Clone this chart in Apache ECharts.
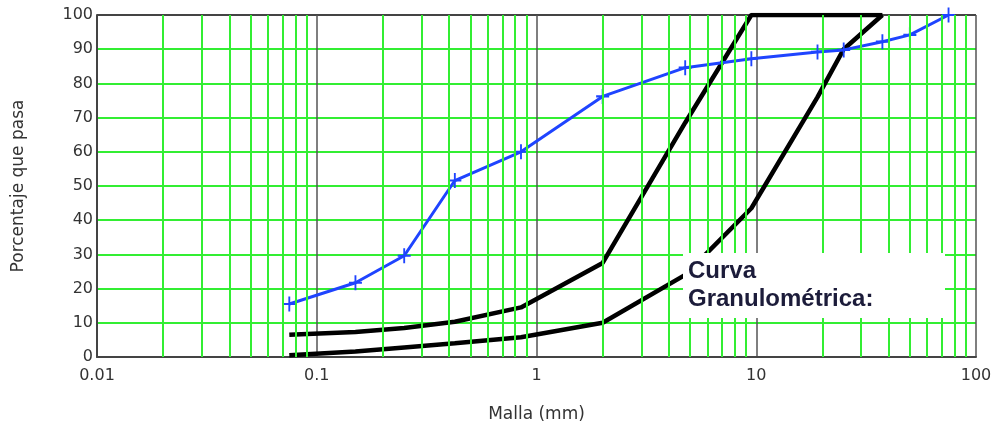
<!DOCTYPE html>
<html>
<head>
<meta charset="utf-8">
<script src="https://cdn.jsdelivr.net/npm/echarts@6/dist/echarts.min.js"></script>
<style>
html,body{margin:0;padding:0;background:#fff;}
#c{width:1000px;height:428px;}
</style>
</head>
<body>
<div id="c"></div>
<script>
// Sieve sizes (mm)
const sieves = [0.075, 0.15, 0.25, 0.425, 0.85, 2, 4.75, 9.5, 19, 25, 37.5, 50, 75];
// Sample gradation (% passing)
const sample = [15.5, 21.7, 29.6, 51.6, 60, 76.2, 84.6, 87.2, 89.2, 89.8, 92.2, 94.2, 100];
// Envelope sieves
const envSieves = [0.075, 0.15, 0.25, 0.425, 0.85, 2, 4.75, 9.5, 19, 25, 37.5];
const upperLimit = [6.5, 7.3, 8.5, 10.3, 14.5, 27.5, 68.5, 100, 100, 100, 100];
const lowerLimit = [0.5, 1.6, 2.8, 4.0, 5.8, 10, 24, 43.5, 76, 90, 100];
// Axis ticks
const xTickLabels = ['0.01', '0.1', '1', '10', '100'];
const minorGridX = [0.02,0.03,0.04,0.05,0.06,0.07,0.08,0.09,
                    0.2,0.3,0.4,0.5,0.6,0.7,0.8,0.9,
                    2,3,4,5,6,7,8,9,
                    20,30,40,50,60,70,80,90];
const boxText = 'Curva\nGranulométrica:';

const GREEN = '#33ee33';
const FONT = '"DejaVu Sans", sans-serif';

const chart = echarts.init(document.getElementById('c'));
const pair = (xs, ys) => xs.map((x, i) => [x, ys[i]]);

chart.setOption({
  animation: false,
  backgroundColor: '#fff',
  grid: {left: 97, right: 24, top: 15, bottom: 68},
  xAxis: {
    type: 'log', logBase: 10, min: 0.01, max: 100,
    name: 'Malla (mm)', nameLocation: 'middle', nameGap: 49,
    nameTextStyle: {fontFamily: FONT, fontSize: 17, color: '#333'},
    axisLine: {show: true, lineStyle: {color: '#444', width: 2}},
    axisTick: {show: false},
    axisLabel: {
      fontFamily: FONT, fontSize: 16, color: '#333', margin: 11,
      formatter: v => xTickLabels[Math.round(Math.log10(v)) + 2]
    },
    splitLine: {show: true, showMinLine: true, showMaxLine: true, lineStyle: {color: '#555', width: 1.5}}
  },
  yAxis: {
    type: 'value', min: 0, max: 100, interval: 10,
    name: 'Porcentaje que pasa', nameLocation: 'middle', nameGap: 70, nameRotate: 90,
    nameTextStyle: {fontFamily: FONT, fontSize: 17, color: '#333'},
    axisLine: {show: true, lineStyle: {color: '#444', width: 2}},
    axisTick: {show: false},
    axisLabel: {fontFamily: FONT, fontSize: 16, color: '#333', margin: 4},
    splitLine: {show: true, showMinLine: true, showMaxLine: true, lineStyle: {
      color: ['#444', GREEN, GREEN, GREEN, GREEN, GREEN, GREEN, GREEN, GREEN, GREEN, '#444'], width: 2}}
  },
  series: [
    {
      name: 'minorGrid', type: 'line', data: [], z: -1, silent: true,
      markLine: {
        silent: true, symbol: ['none', 'none'], animation: false,
        label: {show: false},
        emphasis: {disabled: true},
        lineStyle: {color: GREEN, width: 2, type: 'solid'},
        data: minorGridX.map(v => ({xAxis: v}))
      }
    },
    {
      name: 'Lower', type: 'line', data: pair(envSieves, lowerLimit), z: 3,
      showSymbol: false, lineStyle: {color: '#000', width: 4.5}, silent: true
    },
    {
      name: 'Upper', type: 'line', data: pair(envSieves, upperLimit), z: 3,
      showSymbol: false, lineStyle: {color: '#000', width: 4.5}, silent: true
    },
    {
      name: 'Muestra', type: 'line', data: pair(sieves, sample), z: 4,
      symbol: 'path://M5,0L5,10M0,5L10,5', symbolSize: [13, 15],
      itemStyle: {color: '#1f44ff', borderColor: '#1f44ff', borderWidth: 2},
      lineStyle: {color: '#1f44ff', width: 3}, silent: true
    }
  ],
  graphic: [
    {type: 'rect', left: 683, top: 253, shape: {width: 262, height: 65}, style: {fill: '#fff'}, z: 100},
    {type: 'text', left: 688, top: 257, z: 101,
     style: {text: boxText, font: 'bold 24px "Liberation Sans", Arial, sans-serif', fill: '#1c1c3a', lineHeight: 28}}
  ]
});
</script>
</body>
</html>
